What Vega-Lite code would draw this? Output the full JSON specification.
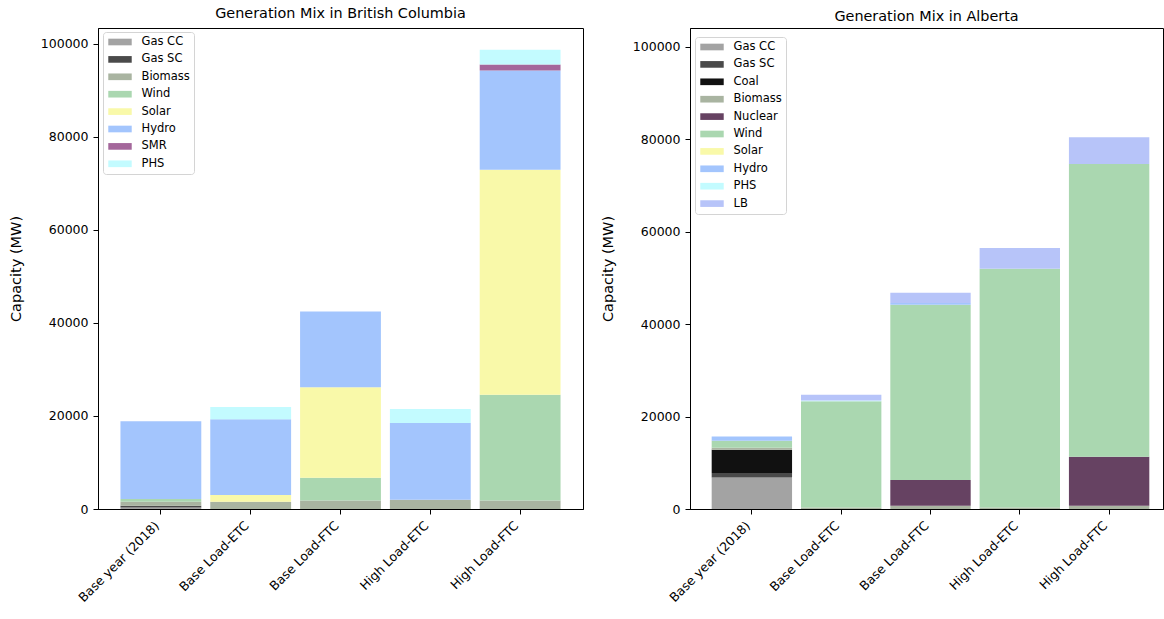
{
  "$schema": "https://vega.github.io/schema/vega-lite/v6.json",
  "padding": {"left": 7, "top": 5, "right": 0, "bottom": 0},
  "spacing": 107,
  "bounds": "flush",
  "config": {
    "font": "DejaVu Sans",
    "view": {"stroke": "#000000", "strokeWidth": 1},
    "axis": {"grid": false, "domainColor": "#000000", "tickColor": "#000000", "labelColor": "#000000", "titleColor": "#000000", "labelFont": "DejaVu Sans", "titleFont": "DejaVu Sans", "labelFontSize": 12.5, "titleFontSize": 14.5, "titleFontWeight": "normal", "tickSize": 5, "labelPadding": 5},
    "title": {"font": "DejaVu Sans", "fontSize": 14.4, "fontWeight": "normal", "color": "#000000"},
    "legend": {"orient": "none", "title": null, "labelFont": "DejaVu Sans", "labelFontSize": 11.5, "labelColor": "#000000", "strokeColor": "#d4d4d4", "fillColor": "#ffffff", "cornerRadius": 3, "padding": 4, "rowPadding": 5.4, "symbolOffset": 7, "labelOffset": 15.5, "symbolType": "M-2.04,-0.58H2.04V0.58H-2.04Z", "symbolSize": 132, "symbolStrokeWidth": 0, "symbolOpacity": 1}
  },
  "resolve": {"scale": {"color": "independent", "y": "independent", "x": "independent"}, "legend": {"color": "independent"}},
  "datasets": {
    "bc": [
      {"scenario": "Base year (2018)", "source": "Gas CC", "mw": 300},
      {"scenario": "Base year (2018)", "source": "Gas SC", "mw": 400},
      {"scenario": "Base year (2018)", "source": "Biomass", "mw": 850},
      {"scenario": "Base year (2018)", "source": "Wind", "mw": 600},
      {"scenario": "Base year (2018)", "source": "Hydro", "mw": 16700},
      {"scenario": "Base Load-ETC", "source": "Biomass", "mw": 1560},
      {"scenario": "Base Load-ETC", "source": "Solar", "mw": 1430},
      {"scenario": "Base Load-ETC", "source": "Hydro", "mw": 16300},
      {"scenario": "Base Load-ETC", "source": "PHS", "mw": 2640},
      {"scenario": "Base Load-FTC", "source": "Biomass", "mw": 1850},
      {"scenario": "Base Load-FTC", "source": "Wind", "mw": 4860},
      {"scenario": "Base Load-FTC", "source": "Solar", "mw": 19440},
      {"scenario": "Base Load-FTC", "source": "Hydro", "mw": 16290},
      {"scenario": "High Load-ETC", "source": "Biomass", "mw": 1990},
      {"scenario": "High Load-ETC", "source": "Hydro", "mw": 16510},
      {"scenario": "High Load-ETC", "source": "PHS", "mw": 3000},
      {"scenario": "High Load-FTC", "source": "Biomass", "mw": 1850},
      {"scenario": "High Load-FTC", "source": "Wind", "mw": 22700},
      {"scenario": "High Load-FTC", "source": "Solar", "mw": 48400},
      {"scenario": "High Load-FTC", "source": "Hydro", "mw": 21300},
      {"scenario": "High Load-FTC", "source": "SMR", "mw": 1300},
      {"scenario": "High Load-FTC", "source": "PHS", "mw": 3150}
    ],
    "ab": [
      {"scenario": "Base year (2018)", "source": "Gas CC", "mw": 6840},
      {"scenario": "Base year (2018)", "source": "Gas SC", "mw": 950},
      {"scenario": "Base year (2018)", "source": "Coal", "mw": 5050},
      {"scenario": "Base year (2018)", "source": "Biomass", "mw": 430},
      {"scenario": "Base year (2018)", "source": "Wind", "mw": 1510},
      {"scenario": "Base year (2018)", "source": "Hydro", "mw": 930},
      {"scenario": "Base Load-ETC", "source": "Biomass", "mw": 300},
      {"scenario": "Base Load-ETC", "source": "Wind", "mw": 23000},
      {"scenario": "Base Load-ETC", "source": "PHS", "mw": 200},
      {"scenario": "Base Load-ETC", "source": "LB", "mw": 1250},
      {"scenario": "Base Load-FTC", "source": "Biomass", "mw": 700},
      {"scenario": "Base Load-FTC", "source": "Nuclear", "mw": 5580},
      {"scenario": "Base Load-FTC", "source": "Wind", "mw": 37920},
      {"scenario": "Base Load-FTC", "source": "Hydro", "mw": 400},
      {"scenario": "Base Load-FTC", "source": "LB", "mw": 2200},
      {"scenario": "High Load-ETC", "source": "Biomass", "mw": 300},
      {"scenario": "High Load-ETC", "source": "Wind", "mw": 51700},
      {"scenario": "High Load-ETC", "source": "LB", "mw": 4500},
      {"scenario": "High Load-FTC", "source": "Biomass", "mw": 700},
      {"scenario": "High Load-FTC", "source": "Nuclear", "mw": 10620},
      {"scenario": "High Load-FTC", "source": "Wind", "mw": 63350},
      {"scenario": "High Load-FTC", "source": "LB", "mw": 5760}
    ]
  },
  "hconcat": [
    {
      "width": 485,
      "height": 481,
      "title": {"text": "Generation Mix in British Columbia", "offset": 7},
      "data": {"name": "bc"},
      "transform": [{"window": [{"op": "row_number", "as": "k"}], "groupby": ["scenario"]}],
      "mark": {"type": "bar"},
      "encoding": {
        "x": {"field": "scenario", "type": "nominal", "sort": ["Base year (2018)", "Base Load-ETC", "Base Load-FTC", "High Load-ETC", "High Load-FTC"], "scale": {"paddingInner": 0.1, "paddingOuter": 0.25, "align": 0.5}, "axis": {"title": null, "labelAngle": -45, "labelOffset": -8}},
        "y": {"field": "mw", "type": "quantitative", "stack": "zero", "scale": {"domain": [0, 103400], "nice": false}, "axis": {"title": "Capacity (MW)", "values": [0, 20000, 40000, 60000, 80000, 100000], "format": "d", "titlePadding": 17}},
        "order": {"field": "k", "type": "quantitative"},
        "color": {"field": "source", "type": "nominal", "sort": ["Gas CC", "Gas SC", "Biomass", "Wind", "Solar", "Hydro", "SMR", "PHS"], "scale": {"domain": ["Gas CC", "Gas SC", "Biomass", "Wind", "Solar", "Hydro", "SMR", "PHS"], "range": ["#a3a3a3", "#4a4a4a", "#a9b4a1", "#aad7b0", "#f9f9a9", "#a3c5fd", "#a4679b", "#c3fbff"]}, "legend": {"legendX": 5, "legendY": 4}}
      }
    },
    {
      "width": 473,
      "height": 481,
      "title": {"text": "Generation Mix in Alberta", "offset": 3.5},
      "data": {"name": "ab"},
      "transform": [{"window": [{"op": "row_number", "as": "k"}], "groupby": ["scenario"]}],
      "mark": {"type": "bar"},
      "encoding": {
        "x": {"field": "scenario", "type": "nominal", "sort": ["Base year (2018)", "Base Load-ETC", "Base Load-FTC", "High Load-ETC", "High Load-FTC"], "scale": {"paddingInner": 0.1, "paddingOuter": 0.198, "align": 0.613}, "axis": {"title": null, "labelAngle": -45, "labelOffset": -8}},
        "y": {"field": "mw", "type": "quantitative", "stack": "zero", "scale": {"domain": [0, 104100], "nice": false}, "axis": {"title": "Capacity (MW)", "values": [0, 20000, 40000, 60000, 80000, 100000], "format": "d", "titlePadding": 17}},
        "order": {"field": "k", "type": "quantitative"},
        "color": {"field": "source", "type": "nominal", "sort": ["Gas CC", "Gas SC", "Coal", "Biomass", "Nuclear", "Wind", "Solar", "Hydro", "PHS", "LB"], "scale": {"domain": ["Gas CC", "Gas SC", "Coal", "Biomass", "Nuclear", "Wind", "Solar", "Hydro", "PHS", "LB"], "range": ["#a3a3a3", "#4a4a4a", "#111111", "#a9b4a1", "#664262", "#aad7b0", "#f9f9a9", "#a3c5fd", "#c3fbff", "#b7c4f9"]}, "legend": {"legendX": 5, "legendY": 9}}
      }
    }
  ]
}
